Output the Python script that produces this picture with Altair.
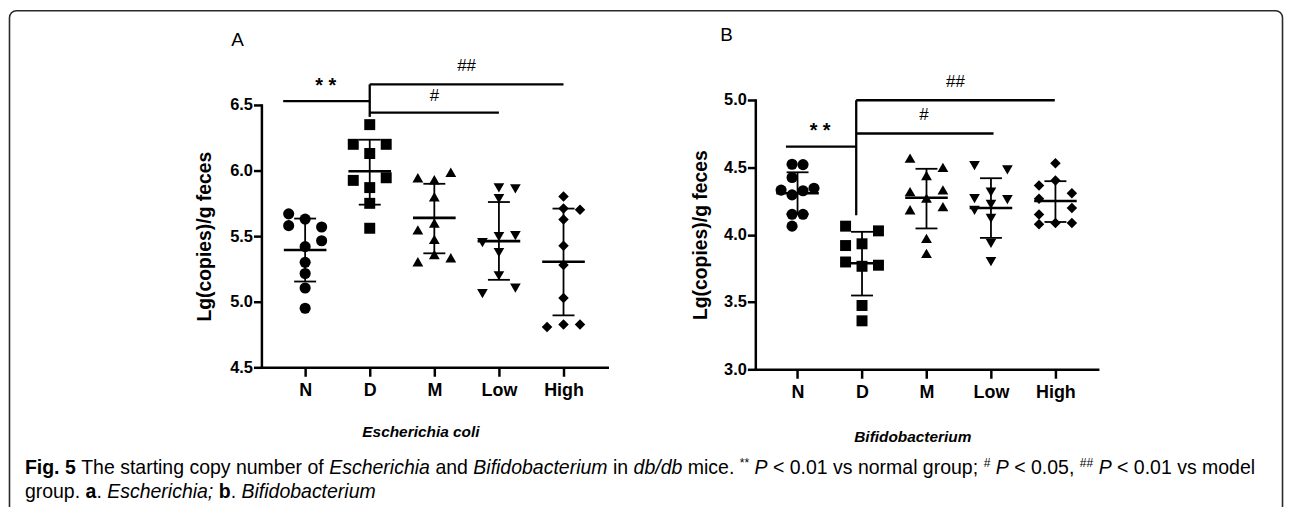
import altair as alt
import pandas as pd

groups = ["N", "D", "M", "Low", "High"]
shapes = ["circle", "square", "triangle-up", "triangle-down", "diamond"]
marker_sizes = [125, 112, 135, 135, 120]

# ---------------- Panel A : Escherichia coli ----------------
a_N = [5.67, 5.58, 5.63, 5.57, 5.465, 5.42, 5.30, 5.215, 5.105, 4.95]
a_N_col = [-1.5, -1.5, 0, 1.5, 1.5, 0, 0, 0, 0, 0]
a_D = [6.35, 6.20, 6.20, 6.13, 5.925, 5.945, 5.87, 5.75, 5.56]
a_D_col = [0, -1.5, 1.5, 0, -1.5, 1.5, 0, 0, 0]
a_M = [5.945, 5.93, 5.987, 5.80, 5.548, 5.60, 5.475, 5.36, 5.305, 5.335]
a_M_col = [-1.5, 0, 1.5, 0, -1.5, 0, 0, 0, -1.5, 1.5]
a_Low = [5.867, 5.861, 5.786, 5.451, 5.497, 5.504, 5.375, 5.198, 5.061, 5.104]
a_Low_col = [0, 1.5, 0, -1.5, 0, 1.5, 0, 0, -1.5, 1.5]
a_High = [5.803, 5.71, 5.702, 5.627, 5.427, 5.28, 5.028, 4.808, 4.826, 4.826]
a_High_col = [0, 0, 1.5, 0, 0, 0, 0, -1.5, 0, 1.5]
a_mean = [5.394, 5.995, 5.639, 5.462, 5.305]
a_sd_hi = [5.634, 6.235, 5.899, 5.760, 5.710]
a_sd_lo = [5.154, 5.740, 5.369, 5.167, 4.896]
a_ticks = [4.5, 5.0, 5.5, 6.0, 6.5]
# significance brackets (group-index units, value units)
a_br_x = [-0.34, 1.0, 1.0, 1.0]
a_br_x2 = [1.0, 4.0, 3.0, 1.0]
a_br_y = [6.53, 6.657, 6.442, 6.409]
a_br_y2 = [6.53, 6.657, 6.442, 6.657]
a_sig_text = ["* *", "##", "#"]
a_sig_x = [0.32, 2.5, 2.0]
a_sig_y = [6.644, 6.795, 6.568]

# ---------------- Panel B : Bifidobacterium ----------------
b_N = [4.523, 4.52, 4.424, 4.331, 4.295, 4.326, 4.345, 4.151, 4.151, 4.063]
b_N_col = [-0.5, 0.5, -0.5, -1.5, -0.5, 0.5, 1.5, -0.5, 0.5, -0.5]
b_D = [4.063, 4.028, 3.919, 3.932, 3.797, 3.765, 3.773, 3.474, 3.36]
b_D_col = [-1.5, 1.5, -1.5, 0, -1.5, 0, 1.5, 0, 0]
b_M = [4.568, 4.50, 4.439, 4.319, 4.332, 4.271, 4.185, 4.208, 3.972, 3.861]
b_M_col = [-1.5, 1.5, 0, -1.5, 1.5, 0, -1.5, 1.5, 0, 0]
b_Low = [4.513, 4.481, 4.316, 4.267, 4.26, 4.225, 4.181, 4.12, 3.935, 3.799]
b_Low_col = [-1.5, 1.5, 0, -1.5, 1.5, 0, -1.5, 0, 0, 0]
b_High = [4.53, 4.402, 4.365, 4.308, 4.267, 4.198, 4.149, 4.077, 4.087, 4.087]
b_High_col = [0, 0, -1.5, 1.5, -1.5, 1.5, -1.5, -1.5, 0, 1.5]
b_mean = [4.308, 3.787, 4.274, 4.198, 4.250]
b_sd_hi = [4.463, 4.021, 4.489, 4.419, 4.397]
b_sd_lo = [4.153, 3.548, 4.046, 3.976, 4.094]
b_ticks = [3.0, 3.5, 4.0, 4.5, 5.0]
b_br_x = [-0.18, 0.91, 0.91, 0.91]
b_br_x2 = [0.91, 3.99, 3.04, 0.91]
b_br_y = [4.653, 4.998, 4.751, 4.144]
b_br_y2 = [4.653, 4.998, 4.751, 4.998]
b_sig_text = ["* *", "##", "#"]
b_sig_x = [0.35, 2.45, 1.96]
b_sig_y = [4.771, 5.133, 4.889]

# ---------------- Caption ----------------
cap_line1 = [("Fig. 5", "b"), (" The starting copy number of ", "r"), ("Escherichia", "i"),
             (" and ", "r"), ("Bifidobacterium", "i"), (" in ", "r"), ("db/db", "i"),
             (" mice. ", "r"), ("**", "sup"), (" ", "r"), ("P", "i"),
             (" < 0.01 vs normal group; ", "r"), ("#", "sup"), (" ", "r"), ("P", "i"),
             (" < 0.05, ", "r"), ("##", "sup"), (" ", "r"), ("P", "i"),
             (" < 0.01 vs model", "r")]
cap_line2 = [("group. ", "r"), ("a", "b"), (". ", "r"), ("Escherichia;", "i"), (" ", "r"),
             ("b", "b"), (". ", "r"), ("Bifidobacterium", "i")]

FONT = "Liberation Sans"
W, H = 1284, 499

# Arial / Liberation Sans advance widths (1/1000 em)
AR = {' ': 278, '.': 278, ',': 278, ';': 278, '<': 584, '*': 389, '#': 556, '/': 278}
for c in "0123456789":
    AR[c] = 556
AR.update(dict(a=556, b=556, c=500, d=556, e=556, f=278, g=556, h=556, i=222, j=222, k=500,
               l=222, m=833, n=556, o=556, p=556, q=556, r=333, s=500, t=278, u=556, v=500,
               w=722, x=500, y=500, z=500, B=667, E=667, F=611, P=667, T=611))
AB = dict(AR)
AB.update(dict(F=611, i=278, g=611, a=556, b=611))
SUP = 0.62


def seg_w(t, st):
    tbl = AB if st == "b" else AR
    k = SUP if st == "sup" else 1.0
    return k * sum(tbl.get(ch, 556) for ch in t) / 1000.0


cap_left, cap_right = 17, 1255
cap_base = [467, 492]
cap_fs = (cap_right - cap_left) / sum(seg_w(t, s) for t, s in cap_line1)
cap_rows = []
for line, base in ((cap_line1, cap_base[0]), (cap_line2, cap_base[1])):
    xx = cap_left
    for t, s in line:
        lead = len(t) - len(t.lstrip(" "))
        if t.strip():
            cap_rows.append(dict(t=t.strip(), x=xx + seg_w(" " * lead, "r") * cap_fs,
                                 y=base - (0.36 * cap_fs if s == "sup" else 0), s=s))
        xx += seg_w(t, s) * cap_fs
cap_df = pd.DataFrame(cap_rows)

label_expr = "[" + ",".join("'%s'" % g for g in groups) + "][datum.value]"


def panel(vals, cols, mean, hi, lo, ticks, brx, brx2, bry, bry2, sig_t, sig_x, sig_y,
          pad, xrange, ydom, yrange, xtitle, xtitle_x, xtitle_y, ytitle_x):
    rows = []
    for gi, g in enumerate(groups):
        for v, c in zip(vals[gi], cols[gi]):
            rows.append(dict(g=g, gi=gi, v=v, col=c))
    pts = pd.DataFrame(rows)
    stats = pd.DataFrame(dict(g=groups, gi=list(range(5)), mean=mean, hi=hi, lo=lo))
    caps = pd.DataFrame(dict(gi=list(range(5)) * 2, sd=list(hi) + list(lo)))
    br = pd.DataFrame(dict(x=brx, x2=brx2, y=bry, y2=bry2))
    sig = pd.DataFrame(dict(t=sig_t, x=sig_x, y=sig_y, star=[("*" in t) for t in sig_t]))

    y_axis_px = xrange[0]
    x_axis_px = yrange[0]
    xscale = alt.Scale(domain=[-pad, 4 + pad], range=xrange, nice=False, zero=False)
    yscale = alt.Scale(domain=ydom, range=yrange, nice=False, zero=False)
    xaxis = alt.Axis(orient="bottom", offset=x_axis_px - H, values=[0, 1, 2, 3, 4],
                     labelExpr=label_expr, grid=False, domainColor="black", domainWidth=2.5,
                     domainCap="square", tickColor="black", tickWidth=2.5, tickSize=9,
                     labelFont=FONT, labelFontSize=18, labelFontWeight="bold",
                     labelColor="black", labelPadding=5, labelFlush=False, labelOverlap=False,
                     title=xtitle, titleFont=FONT, titleFontSize=15.5, titleFontWeight="bold",
                     titleFontStyle="italic", titleColor="black", titleX=xtitle_x,
                     titleY=xtitle_y, titleBaseline="alphabetic", titleAlign="center")
    yaxis = alt.Axis(orient="left", offset=-y_axis_px, values=ticks, format=".1f", grid=False,
                     domainColor="black", domainWidth=2.5, domainCap="square",
                     tickColor="black", tickWidth=2.5, tickSize=8, labelFont=FONT,
                     labelFontSize=16.5, labelFontWeight="bold", labelColor="black",
                     labelPadding=1, labelFlush=False, labelOverlap=False,
                     title="Lg(copies)/g feces", titleFont=FONT, titleFontSize=19.5,
                     titleFontWeight="bold", titleColor="black", titleX=ytitle_x,
                     titleAngle=270, titleBaseline="middle", titleAlign="center")

    def X(f):
        return alt.X(f, type="quantitative", scale=xscale, axis=xaxis)

    def Y(f):
        return alt.Y(f, type="quantitative", scale=yscale, axis=yaxis)

    points = alt.Chart(pts).mark_point(filled=True, opacity=1, color="black", strokeWidth=0).transform_calculate(
        xp="datum.gi + datum.col * 0.17"
    ).encode(
        x=X("xp"), y=Y("v"),
        shape=alt.Shape("g:N", scale=alt.Scale(domain=groups, range=shapes), legend=None),
        size=alt.Size("g:N", scale=alt.Scale(domain=groups, range=marker_sizes), legend=None),
    )
    vert = alt.Chart(stats).mark_rule(color="black", strokeWidth=1.8).encode(
        x=X("gi"), y=Y("lo"), y2="hi")
    meanl = alt.Chart(stats).mark_rule(color="black", strokeWidth=2.6).transform_calculate(
        m1="datum.gi - 0.33", m2="datum.gi + 0.33").encode(x=X("m1"), x2="m2", y=Y("mean"))
    capl = alt.Chart(caps).mark_rule(color="black", strokeWidth=1.8).transform_calculate(
        c1="datum.gi - 0.17", c2="datum.gi + 0.17").encode(x=X("c1"), x2="c2", y=Y("sd"))
    brl = alt.Chart(br).mark_rule(color="black", strokeWidth=2.3).encode(
        x=X("x"), x2="x2", y=Y("y"), y2="y2")
    stars = alt.Chart(sig).transform_filter("datum.star").mark_text(
        font=FONT, fontSize=20, fontWeight="bold", color="black", baseline="middle").encode(
        x=X("x"), y=Y("y"), text="t:N")
    hashes = alt.Chart(sig).transform_filter("!datum.star").mark_text(
        font=FONT, fontSize=17, color="black", baseline="middle").encode(
        x=X("x"), y=Y("y"), text="t:N")
    return alt.layer(vert, capl, meanl, points, brl, stars, hashes)


panelA = panel([a_N, a_D, a_M, a_Low, a_High],
               [a_N_col, a_D_col, a_M_col, a_Low_col, a_High_col],
               a_mean, a_sd_hi, a_sd_lo, a_ticks, a_br_x, a_br_x2, a_br_y, a_br_y2,
               a_sig_text, a_sig_x, a_sig_y, 0.677, [255, 603], [4.5, 6.5], [360, 96],
               "Escherichia coli", 415, 70, -57)
panelB = panel([b_N, b_D, b_M, b_Low, b_High],
               [b_N_col, b_D_col, b_M_col, b_Low_col, b_High_col],
               b_mean, b_sd_hi, b_sd_lo, b_ticks, b_br_x, b_br_x2, b_br_y, b_br_y2,
               b_sig_text, b_sig_x, b_sig_y, 0.655, [752, 1096.5], [3.0, 5.0], [362, 91],
               "Bifidobacterium", 910, 73, -55)

one = pd.DataFrame({"d": [0]})
frame = alt.Chart(one).mark_rect(fill=None, stroke="#2a2a2a", strokeWidth=1.6,
                                 cornerRadius=7).encode(
    x=alt.value(1.5), x2=alt.value(1282.5), y=alt.value(1.2), y2=alt.value(600))
letters = pd.DataFrame(dict(t=["A", "B"], x=[231, 723], y=[37, 32]))
letter_layer = alt.Chart(letters).mark_text(font=FONT, fontSize=19, color="black",
                                            align="center", baseline="alphabetic").encode(
    x=alt.X("x:Q", scale=None, axis=None), y=alt.Y("y:Q", scale=None, axis=None), text="t:N")

cap_layers = []
for st in ["r", "b", "i", "sup"]:
    kw = dict(font=FONT, color="black", align="left", baseline="alphabetic",
              fontSize=cap_fs * (SUP if st == "sup" else 1.0))
    if st == "b":
        kw["fontWeight"] = "bold"
    if st == "i":
        kw["fontStyle"] = "italic"
    cap_layers.append(
        alt.Chart(cap_df).transform_filter(alt.datum.s == st).mark_text(**kw).encode(
            x=alt.X("x:Q", scale=None, axis=None), y=alt.Y("y:Q", scale=None, axis=None),
            text="t:N"))

chart = alt.layer(panelA, panelB, frame, letter_layer, *cap_layers).resolve_scale(
    x="independent", y="independent"
).properties(
    width=W, height=H, autosize=alt.AutoSizeParams(type="none"), padding=0
).configure_view(stroke=None)

chart.save("out.html", embed_options={"renderer": "svg", "actions": False})
